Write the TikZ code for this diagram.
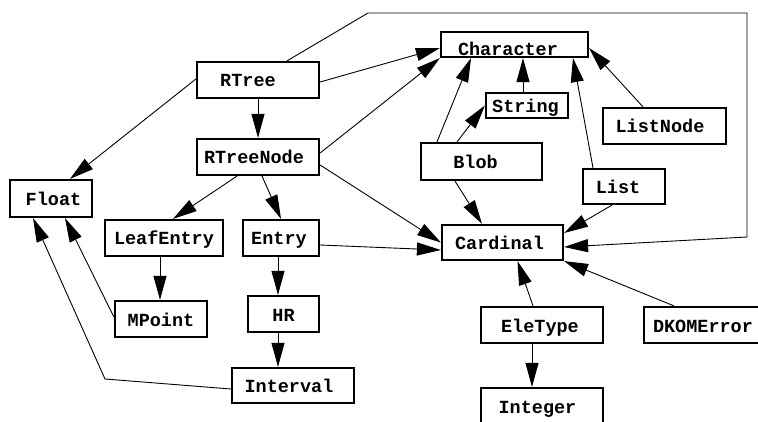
\documentclass[tikz,border=0pt]{standalone}
\usepackage{fontspec}
\setmonofont{Liberation Mono}
\usetikzlibrary{arrows.meta}
\begin{document}
\begin{tikzpicture}[x=1pt,y=-1pt,
  cls/.style={draw, line width=2.2pt, inner sep=0pt,
    font=\fontsize{18.5}{20}\selectfont\ttfamily\bfseries,
    text height=14pt, text depth=0pt},
  dep/.style={line width=0.9pt, -{Triangle[length=24pt,width=13pt]}},
]
\useasboundingbox (0,0) rectangle (758,422);

% classes (a trailing/leading \kern nudges a name off the box centre)
\node[cls, minimum width=122pt, minimum height=36pt] (rtree)      at (258,80)    {RTree\kern20pt};
\node[cls, minimum width=122pt, minimum height=36pt] (rtreenode)  at (258,157)   {RTreeNode\kern8pt};
\node[cls, minimum width=82pt,  minimum height=37pt] (float)      at (51,198.5)  {\kern5pt Float};
\node[cls, minimum width=147pt, minimum height=25pt, text height=22pt] (character) at (514.5,44.5) {Character\kern13pt};
\node[cls, minimum width=82pt,  minimum height=25pt] (string)     at (527,105.5) {String\kern3pt};
\node[cls, minimum width=123pt, minimum height=36pt] (listnode)   at (664.5,126) {ListNode\kern9pt};
\node[cls, minimum width=121pt, minimum height=37pt] (blob)       at (481.5,161.5) {Blob\kern12pt};
\node[cls, minimum width=82pt,  minimum height=35pt] (list)       at (624,186.5) {List\kern12pt};
\node[cls, minimum width=118pt, minimum height=36pt] (leafentry)  at (164,238)   {LeafEntry};
\node[cls, minimum width=76pt,  minimum height=36pt] (entry)      at (281,238)   {Entry\kern4pt};
\node[cls, minimum width=121pt, minimum height=35pt] (cardinal)   at (502.5,242.5) {Cardinal\kern6pt};
\node[cls, minimum width=92pt,  minimum height=36pt] (mpoint)     at (161,319)   {MPoint};
\node[cls, minimum width=71pt,  minimum height=36pt] (hr)         at (283.5,314) {HR};
\node[cls, minimum width=122pt, minimum height=35pt] (interval)   at (293,385.5) {Interval\kern8pt};
\node[cls, minimum width=122pt, minimum height=36pt] (eletype)    at (542,325)   {EleType\kern4pt};
\node[cls, minimum width=118pt, minimum height=36pt] (dkomerror)  at (703,325)   {DKOMError};
\node[cls, minimum width=122pt, minimum height=37pt] (integer)    at (542,406.5) {Integer\kern9pt};

% bend points of the routed connectors
\coordinate (bendA) at (368,13);
\coordinate (bendB) at (747,13);
\coordinate (bendC) at (747,237);
\coordinate (bendD) at (105,379);

% dependencies
\draw[dep] (rtree.south) -- (rtreenode.north);
\draw[dep] ([yshift=1pt]rtree.west) -- ([xshift=19pt]float.north);
\draw[dep] ([yshift=-2pt]rtree.east) -- ([yshift=-3.5pt]character.west);
\draw[dep] ([xshift=29pt]rtree.north) -- (bendA) -- (bendB) -- (bendC) -- ([yshift=-4.5pt]cardinal.east);

\draw[dep] ([yshift=4pt]rtreenode.east) -- (character.south west);
\draw[dep] ([yshift=-8pt]rtreenode.east) -- (cardinal.west);
\draw[dep] ([xshift=-21pt]rtreenode.south) -- ([xshift=9pt]leafentry.north);
\draw[dep] ([xshift=4pt]rtreenode.south) -- (entry.north);

\draw[dep] ([yshift=-7pt]entry.east) -- ([yshift=-7.5pt]cardinal.west);
\draw[dep] ([xshift=-3pt]entry.south) -- ([xshift=-3pt]entry.south |- hr.north);
\draw[dep] ([xshift=-5.5pt]hr.south) -- ([xshift=-5.5pt]hr.south |- interval.north);
\draw[dep] ([xshift=-4pt]leafentry.south) -- ([xshift=-4pt]leafentry.south |- mpoint.north);

\draw[dep] ([yshift=2pt]mpoint.west) -- ([xshift=14pt]float.south);
\draw[dep] ([yshift=-3.5pt]interval.west) -- (bendD) -- ([xshift=-18pt]float.south);

\draw[dep] ([xshift=-44.5pt]blob.north) -- ([xshift=-43.5pt]character.south);
\draw[dep] ([xshift=-24.5pt]blob.north) -- (string.west);
\draw[dep] ([xshift=-26.5pt]blob.south) -- ([xshift=-20.5pt]cardinal.north);
\draw[dep] ([xshift=-4pt]string.north) -- ([xshift=-4pt]string.north |- character.south);

\draw[dep] ([xshift=-31pt]list.north) -- ([xshift=58.5pt]character.south);
\draw[dep] ([xshift=-12pt]list.south) -- ([yshift=9.5pt]cardinal.east);
\draw[dep] ([xshift=-21.5pt]listnode.north) -- ([yshift=-3.5pt]character.east);

\draw[dep] ([xshift=-9pt]eletype.north) -- ([xshift=15pt]cardinal.south);
\draw[dep] ([xshift=-10pt]eletype.south) -- ([xshift=-10pt]eletype.south |- integer.north);
\draw[dep] ([xshift=-29pt]dkomerror.north) -- (cardinal.south east);
\end{tikzpicture}
\end{document}
